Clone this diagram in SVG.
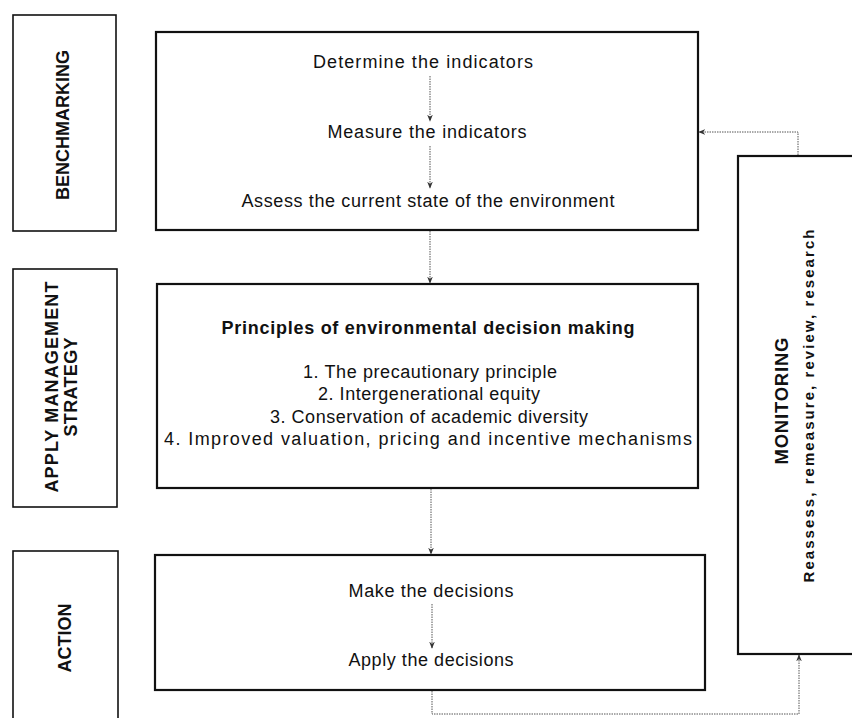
<svg xmlns="http://www.w3.org/2000/svg" width="852" height="718" viewBox="0 0 852 718">
<style>
.lab{fill:#fff;stroke:#111;stroke-width:1.6}
.box{fill:#fff;stroke:#111;stroke-width:2.2}
.t{font-family:"Liberation Sans",Arial,sans-serif;font-size:18px;fill:#111;text-anchor:middle}
.b{font-weight:bold}
.con{fill:none;stroke:#555;stroke-width:1;stroke-dasharray:1.5 1}
</style>
<defs>
<marker id="ah" viewBox="0 0 10 10" refX="9" refY="5" markerWidth="7" markerHeight="7" orient="auto" markerUnits="userSpaceOnUse">
<path d="M0,1 L10,5 L0,9 L3,5 Z" fill="#333"/>
</marker>
</defs>

<g id="benchmarking">
<rect class="lab" x="13" y="15" width="103" height="216"/>
<text class="t b" transform="translate(69,125) rotate(-90)" textLength="150">BENCHMARKING</text>
</g>

<g id="apply-management">
<rect class="lab" x="13" y="269" width="104" height="238"/>
<text class="t b" transform="translate(58,387) rotate(-90)" textLength="211">APPLY MANAGEMENT</text>
<text class="t b" transform="translate(77,387) rotate(-90)" textLength="99">STRATEGY</text>
</g>

<g id="action-label">
<rect class="lab" x="13" y="551" width="105" height="180"/>
<text class="t b" transform="translate(71,638) rotate(-90)" textLength="69">ACTION</text>
</g>

<g id="benchmark-box">
<rect class="box" x="156" y="32" width="542" height="198"/>
<text class="t" x="423" y="68" textLength="220">Determine the indicators</text>
<text class="t" x="427" y="138" textLength="199">Measure the indicators</text>
<text class="t" x="428" y="207" textLength="373">Assess the current state of the environment</text>
</g>

<g id="strategy-box">
<rect class="box" x="157" y="284" width="541" height="204"/>
<text class="t b" x="428" y="334" textLength="413">Principles of environmental decision making</text>
<text class="t" x="430" y="378" textLength="254">1. The precautionary principle</text>
<text class="t" x="429" y="400" textLength="222">2. Intergenerational equity</text>
<text class="t" x="429" y="423" textLength="318">3. Conservation of academic diversity</text>
<text class="t" x="428" y="445" textLength="528">4. Improved valuation, pricing and incentive mechanisms</text>
</g>

<g id="action-box">
<rect class="box" x="155" y="555" width="550" height="135"/>
<text class="t" x="431" y="597" textLength="165">Make the decisions</text>
<text class="t" x="431" y="666" textLength="165">Apply the decisions</text>
</g>

<g id="monitoring">
<rect class="box" x="738" y="156" width="130" height="498"/>
<text class="t b" style="font-size:18.5px" transform="translate(788,401) rotate(-90)" textLength="127">MONITORING</text>
<text class="t b" style="font-size:15px" transform="translate(814,406) rotate(-90)" textLength="353">Reassess, remeasure, review, research</text>
</g>

<g id="connectors">
<path class="con" d="M430,76 V121" marker-end="url(#ah)"/>
<path class="con" d="M430,146 V188" marker-end="url(#ah)"/>
<path class="con" d="M430,231 V283" marker-end="url(#ah)"/>
<path class="con" d="M431,489 V554" marker-end="url(#ah)"/>
<path class="con" d="M432,604 V648" marker-end="url(#ah)"/>
<path class="con" d="M432,691 V714 H799 V655" marker-end="url(#ah)"/>
<path class="con" d="M798,155 V132 H699" marker-end="url(#ah)"/>
</g>
</svg>
